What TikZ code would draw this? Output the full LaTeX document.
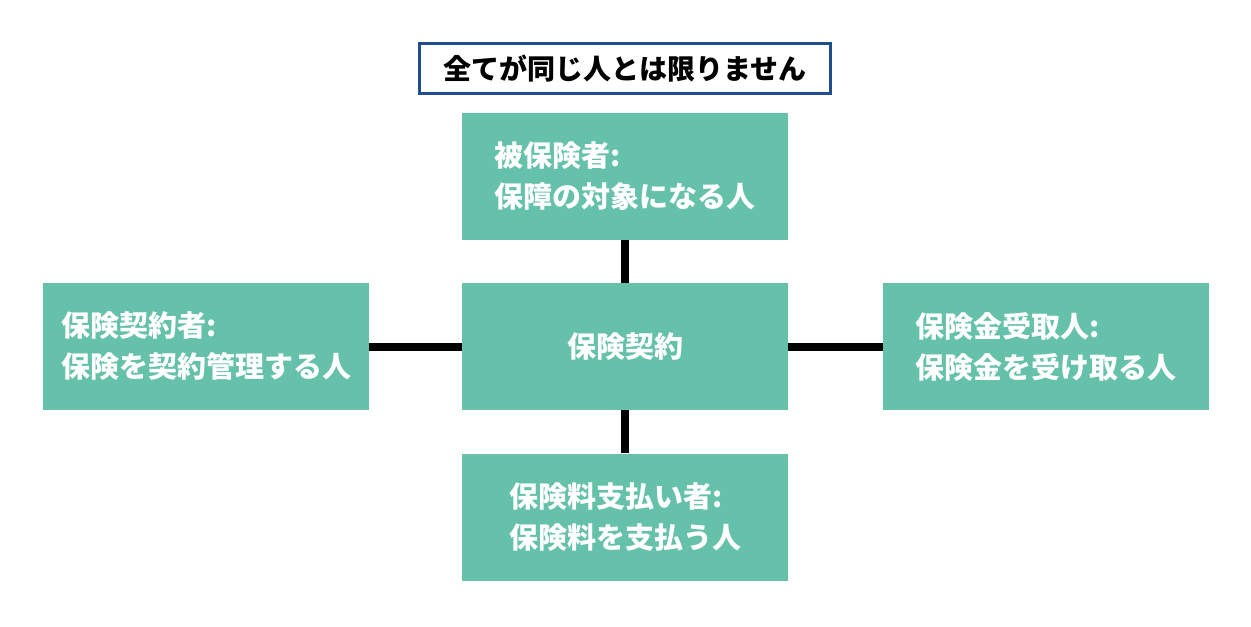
\documentclass[tikz,border=0pt]{standalone}
\usepackage{fontspec}
\newfontfamily\jpfont{Noto Sans CJK JP}
\usepackage{tikz}

\definecolor{boxgreen}{HTML}{65C1AA}
\definecolor{titleblue}{HTML}{1F4E8C}

\tikzset{
  rolebox/.style={fill=boxgreen, text=white, minimum width=163pt, minimum height=63.5pt,
    inner sep=0pt, align=left, font=\jpfont\bfseries\fontsize{14.5pt}{20.5pt}\selectfont},
  titlebox/.style={draw=titleblue, line width=1.5pt, fill=white, minimum width=205.5pt,
    minimum height=25pt, inner sep=0pt, font=\jpfont\bfseries\fontsize{14pt}{20pt}\selectfont},
  link/.style={line width=4pt, black},
}

\begin{document}
\begin{tikzpicture}[x=0.5pt,y=-0.5pt]
  \useasboundingbox (0,0) rectangle (1251,626);

  % Title
  \node[titlebox] (title) at (625,68.5) {全てが同じ人とは限りません};

  % Boxes
  \node[rolebox] (contract) at (625,346.5) {保険契約};
  \node[rolebox] (insured) at (625,176.5) {被保険者:\\保障の対象になる人};
  \node[rolebox] (holder) at (206,346.5) {保険契約者:\\保険を契約管理する人};
  \node[rolebox] (receiver) at (1046,346.5) {保険金受取人:\\保険金を受け取る人};
  \node[rolebox] (payer) at (625,517) {保険料支払い者:\\保険料を支払う人};

  % Links
  \draw[link] (insured) -- (contract);
  \draw[link] (contract) -- (payer);
  \draw[link] (holder) -- (contract);
  \draw[link] (contract) -- (receiver);

\end{tikzpicture}
\end{document}
